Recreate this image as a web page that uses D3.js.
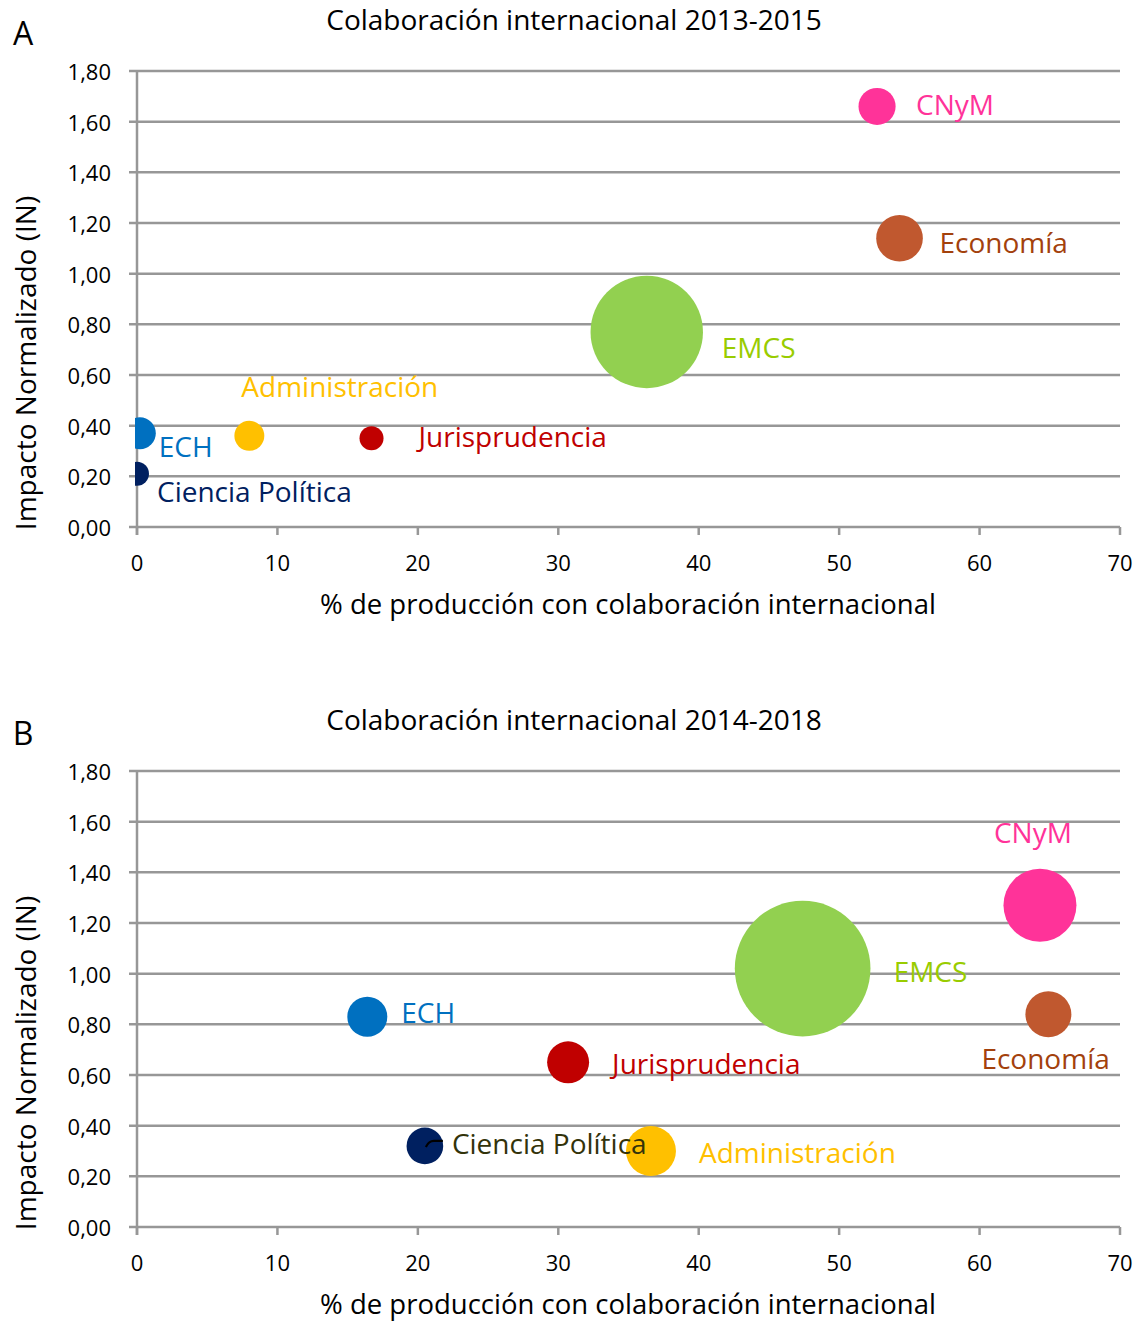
<!DOCTYPE html>
<html>
<head>
<meta charset="utf-8">
<script src="https://cdn.jsdelivr.net/npm/d3@7"></script>
<style>
  body { margin: 0; background: #fff; }
  text { font-family: "Open Sans", "Noto Sans", sans-serif; }
</style>
</head>
<body>
<svg id="chart" width="1140" height="1322"></svg>
<script>
// categorias y colores
const categorias = ["CNyM", "Economía", "EMCS", "ECH", "Administración", "Jurisprudencia", "Ciencia Política"]
const coloresBurbuja = ["#ff3399", "#c0582f", "#92d050", "#0070c0", "#ffc000", "#c00000", "#002060"]
const coloresTexto = ["#ff3399", "#a3410c", "#99cc00", "#0070c0", "#ffc000", "#c00000", "#002060"]

// 2013-2015
const colaboracionA = [52.7, 54.3, 36.3, 0.2, 8.0, 16.7, 0.0]
const impactoA = [1.66, 1.14, 0.77, 0.37, 0.36, 0.35, 0.21]
const tamanoA = [86, 136, 790, 64, 56, 36, 36]

// 2014-2018
const colaboracionB = [64.3, 64.9, 47.4, 16.4, 36.6, 30.7, 20.5]
const impactoB = [1.27, 0.84, 1.02, 0.83, 0.30, 0.65, 0.32]
const tamanoB = [333, 132, 1150, 100, 156, 110, 84]

const ticksX = [0, 10, 20, 30, 40, 50, 60, 70]
const ticksY = [0, 0.2, 0.4, 0.6, 0.8, 1.0, 1.2, 1.4, 1.6, 1.8]

const locale = d3.formatLocale({decimal: ",", thousands: ".", grouping: [3], currency: ["", "€"]})
const fmt = locale.format(".2f")

const svg = d3.select('#chart')
const W = 983, H = 456
const x = d3.scaleLinear().domain([0, 70]).range([0, W])
const y = d3.scaleLinear().domain([0, 1.8]).range([H, 0])
const r = d3.scaleSqrt().domain([0, 100]).range([0, 20])
const grid = '#979797'

function chart (opts) {
  const g = svg.append('g').attr('transform', `translate(137,${opts.top})`)

  svg.append('text').attr('x', 23).attr('y', opts.top - 39)
    .attr('text-anchor', 'middle').attr('dominant-baseline', 'central')
    .attr('font-size', 32).text(opts.letter)
  svg.append('text').attr('x', 574).attr('y', opts.top - 52)
    .attr('text-anchor', 'middle').attr('dominant-baseline', 'central')
    .attr('font-size', 28).text(opts.title)
  svg.append('text')
    .attr('transform', `translate(25,${opts.top + 292}) rotate(-90)`)
    .attr('text-anchor', 'middle').attr('dominant-baseline', 'central')
    .attr('font-size', 28).text('Impacto Normalizado (IN)')
  svg.append('text').attr('x', 628).attr('y', opts.top + 532)
    .attr('text-anchor', 'middle').attr('dominant-baseline', 'central')
    .attr('font-size', 27.5).text('% de producción con colaboración internacional')

  // grid
  g.selectAll('line.grid').data(ticksY).enter().append('line')
    .attr('x1', -8).attr('x2', W)
    .attr('y1', d => y(d)).attr('y2', d => y(d))
    .attr('stroke', grid).attr('stroke-width', 2.5)
  g.append('line').attr('x1', 0).attr('x2', 0).attr('y1', 0).attr('y2', H + 8)
    .attr('stroke', grid).attr('stroke-width', 2.5)
  g.selectAll('line.tx').data(ticksX).enter().append('line')
    .attr('x1', d => x(d)).attr('x2', d => x(d)).attr('y1', H).attr('y2', H + 8)
    .attr('stroke', grid).attr('stroke-width', 2.5)

  g.selectAll('text.ty').data(ticksY).enter().append('text')
    .attr('x', -26).attr('y', d => y(d))
    .attr('text-anchor', 'end').attr('dominant-baseline', 'central')
    .attr('font-size', 22).text(d => fmt(d))
  g.selectAll('text.tx').data(ticksX).enter().append('text')
    .attr('x', d => x(d)).attr('y', H + 35)
    .attr('text-anchor', 'middle').attr('dominant-baseline', 'central')
    .attr('font-size', 22).text(d => d)

  const clipId = 'clip' + opts.letter
  g.append('clipPath').attr('id', clipId).append('rect')
    .attr('x', -2).attr('y', -2).attr('width', W + 4).attr('height', H + 4)

  const pts = categorias.map((c, i) => ({
    nombre: c, x: opts.cx[i], y: opts.cy[i], s: opts.size[i], i: i
  }))

  g.append('g').attr('clip-path', `url(#${clipId})`)
    .selectAll('circle').data(pts.slice().sort((a, b) => b.s - a.s)).enter()
    .append('circle')
    .attr('cx', d => x(d.x)).attr('cy', d => y(d.y)).attr('r', d => r(d.s))
    .attr('fill', d => coloresBurbuja[d.i])

  if (opts.arrow) {
    const p = pts[6]
    g.append('path')
      .attr('d', `M${x(p.x) + 1},${y(p.y) + 1} Q${x(p.x) + 4},${y(p.y) - 5} ${x(p.x) + 9},${y(p.y) - 5} L${x(p.x) + 18},${y(p.y) - 5}`)
      .attr('fill', 'none').attr('stroke', '#000').attr('stroke-width', 2.2)
  }

  g.selectAll('text.lbl').data(pts).enter().append('text')
    .attr('x', d => x(d.x) + opts.off[d.i][0])
    .attr('y', d => y(d.y) + opts.off[d.i][1])
    .attr('dominant-baseline', 'central')
    .attr('font-size', 28)
    .attr('fill', d => (opts.textColor && opts.textColor[d.i]) || coloresTexto[d.i])
    .text(d => d.nombre)
}

chart({
  letter: 'A', top: 71, title: 'Colaboración internacional 2013-2015',
  cx: colaboracionA, cy: impactoA, size: tamanoA,
  off: [[39, -2], [40, 4], [75, 15], [19, 13], [-8, -50], [47, -2], [20, 17]]
})

chart({
  letter: 'B', top: 771, title: 'Colaboración internacional 2014-2018',
  cx: colaboracionB, cy: impactoB, size: tamanoB, arrow: true,
  textColor: [null, null, null, null, null, null, '#33330a'],
  off: [[-46, -73], [-67, 44], [91, 2], [34, -5], [48, 1], [44, 1], [27, -3]]
})
</script>
</body>
</html>
